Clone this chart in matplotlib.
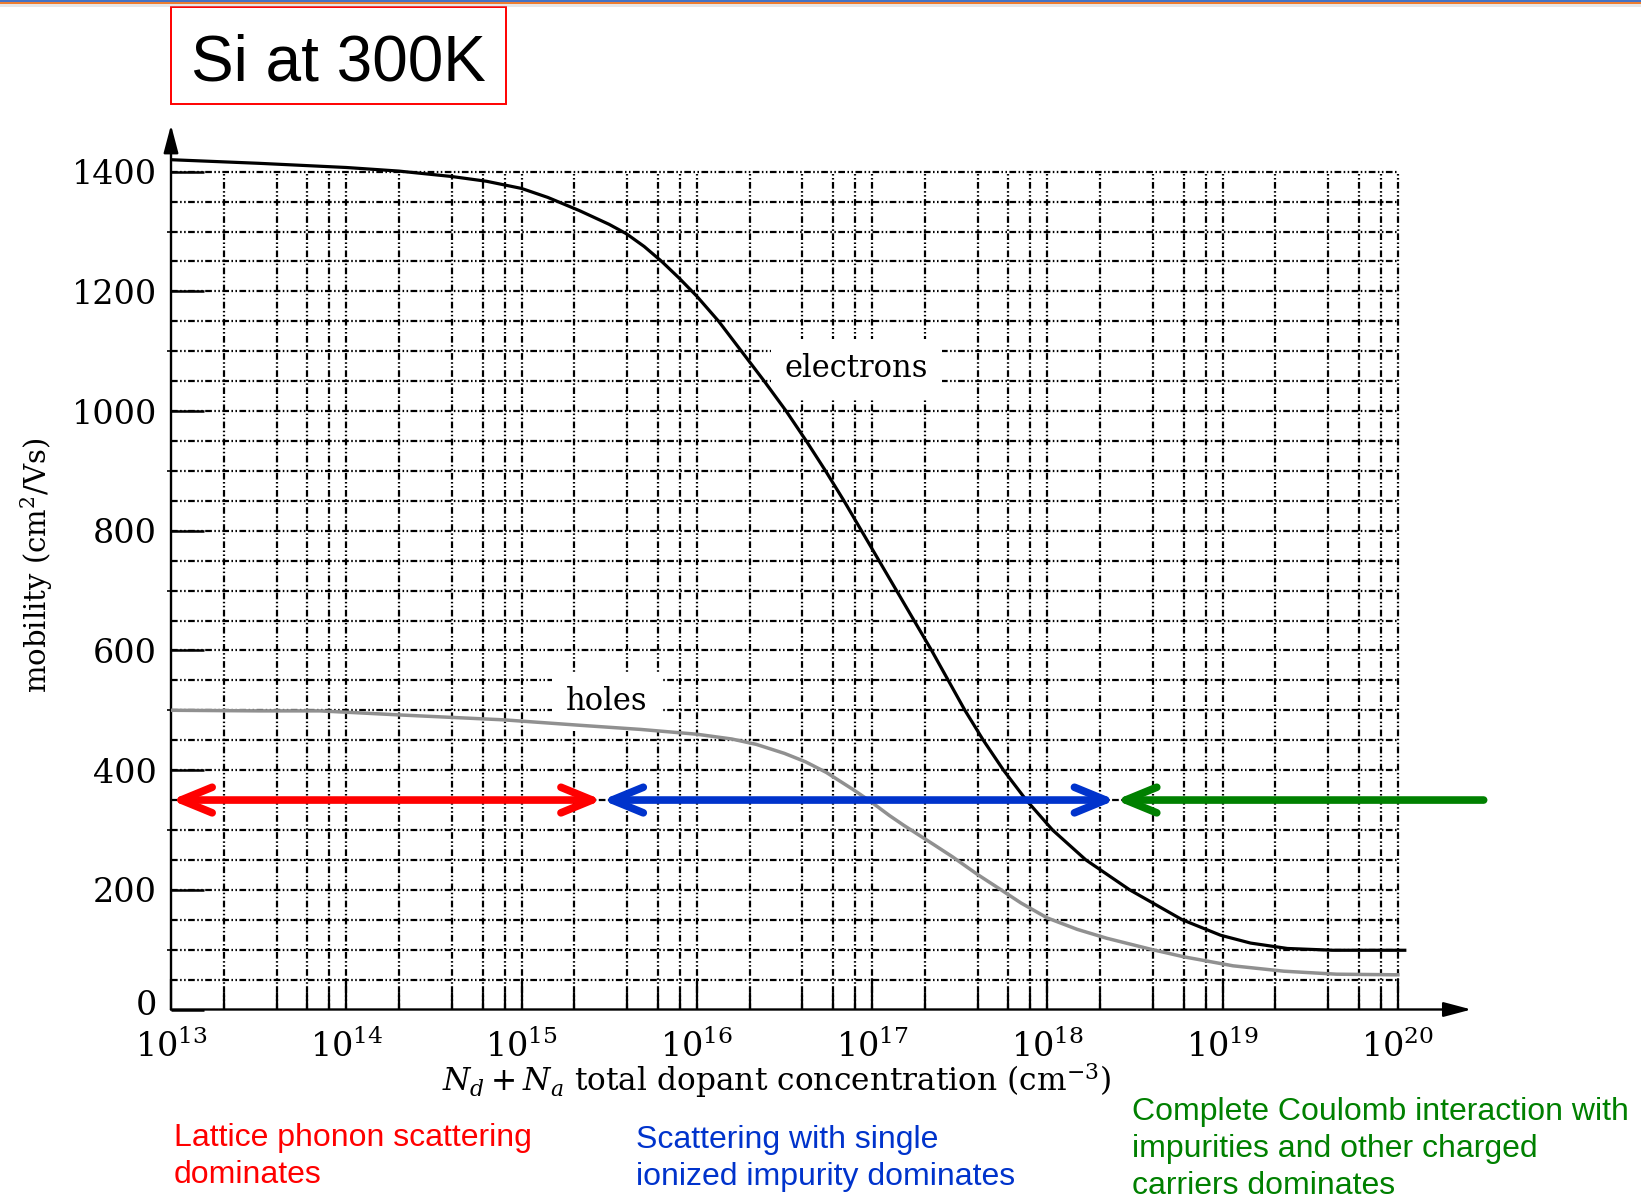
import numpy as np
import matplotlib
matplotlib.use("Agg")
import matplotlib.pyplot as plt
import matplotlib.transforms as mtransforms
from matplotlib.patches import Rectangle
from matplotlib.ticker import NullFormatter

plt.rcParams['font.family'] = 'DejaVu Serif'
plt.rcParams['mathtext.fontset'] = 'dejavuserif'

# -----------------------------
# DATA (Si mobility at 300 K)
# -----------------------------
# log10 of total dopant concentration (cm^-3) and mobility (cm^2/Vs)
log_n_electrons = [13.0, 13.5, 14.0, 14.3, 14.6, 14.8, 15.0, 15.15, 15.33, 15.5,
                   15.6, 15.7, 15.8, 15.9, 16.0, 16.125, 16.255, 16.385, 16.51,
                   16.625, 16.735, 16.84, 16.94, 17.04, 17.14, 17.24, 17.34,
                   17.435, 17.53, 17.635, 17.75, 17.88, 18.03, 18.22, 18.47,
                   18.77, 18.99, 19.16, 19.37, 19.63, 20.04]
mu_electrons = [1420, 1414, 1407, 1401, 1392, 1384, 1372, 1357, 1335, 1312,
                1296, 1275, 1250, 1222, 1192, 1150, 1100, 1050, 1000,
                950, 900, 850, 800, 750, 700, 650, 600,
                550, 500, 450, 400, 350, 300, 250, 200,
                150, 124, 111, 102, 99, 99]

log_n_holes = [13.0, 13.5, 13.85, 14.32, 14.9, 15.33, 15.68, 16.0, 16.2, 16.34,
               16.5, 16.62, 16.74, 16.89, 16.99, 17.1, 17.18, 17.35, 17.46,
               17.6, 17.71, 17.85, 18.0, 18.17, 18.34, 18.6, 18.78, 19.06,
               19.35, 19.65, 20.0]
mu_holes = [500, 499, 499, 492, 484, 475, 468, 460, 452, 443,
            428, 414, 396, 368, 348, 324, 308, 276, 255,
            226, 205, 178, 153, 134, 119, 100, 88, 73,
            64, 59, 58]

decades = [13, 14, 15, 16, 17, 18, 19, 20]
y_ticks = [0, 200, 400, 600, 800, 1000, 1200, 1400]

# regime boundaries (log10 N) and the level the arrows are drawn at
regime_edges = [13.0, 15.46, 18.39, 20.49]
arrow_level = 350

regime_text = ["Lattice phonon scattering\ndominates",
               "Scattering with single\nionized impurity dominates",
               "Complete Coulomb interaction with\nimpurities and other charged\ncarriers dominates"]
regime_colors = ["#FF0000", "#0033CC", "#008000"]

# -----------------------------
# FIGURE
# -----------------------------
W, H = 1641, 1198
fig = plt.figure(figsize=(W / 100, H / 100), dpi=100)

x_left, x_right = 171, 1485.4
y_bottom, y_top = 1009.5, 125
ax = fig.add_axes([x_left / W, 1 - y_bottom / H, (x_right - x_left) / W, (y_bottom - y_top) / H])
ax.set_xscale('log')
ax.set_xlim(1e13, 10 ** 20.5)
ax.set_ylim(0, 1478)
for sp in ax.spines.values():
    sp.set_visible(False)

# grid: dash-dot-dot lines, only inside the 1e13..1e20 / 0..1400 box
grid_style = dict(color='black', lw=1.6, linestyles=[(0, (3.0, 1.1, 0.7, 1.1, 0.7, 1.1))], zorder=1)
h_lines = np.arange(50, 1401, 50)
v_lines = [m * 10.0 ** k for k in decades[:-1] for m in (2, 4, 6, 8, 10)]
ax.hlines(h_lines, 1e13, 1e20, **grid_style)
ax.vlines(v_lines, 0, 1400, **grid_style)

# axes drawn as arrows
axis_arrow = dict(arrowstyle='-|>,head_length=1.7,head_width=0.45', color='black',
                  lw=1.7, shrinkA=0, shrinkB=0, mutation_scale=10)
ax.annotate('', xy=(10 ** 20.42, 0), xytext=(1e13, 0), arrowprops=axis_arrow, annotation_clip=False)
ax.annotate('', xy=(1e13, 1478), xytext=(1e13, 0), arrowprops=axis_arrow, annotation_clip=False)

# ticks
ax.set_xticks([10.0 ** d for d in decades])
ax.set_xticklabels([rf'$10^{{{d}}}$' for d in decades])
ax.set_xticks([m * 10.0 ** k for k in decades[:-1] for m in (2, 4, 6, 8)], minor=True)
ax.xaxis.set_minor_formatter(NullFormatter())
ax.tick_params(axis='x', which='major', direction='in', length=22, width=1.6, pad=15, labelsize=24)
ax.tick_params(axis='x', which='minor', direction='in', length=12.5, width=1.6)

ax.set_yticks(y_ticks)
ax.set_yticks(np.arange(100, 1400, 200), minor=True)
ax.tick_params(axis='y', which='major', direction='in', length=24, width=1.8, pad=10, labelsize=24)
ax.tick_params(axis='y', which='minor', direction='inout', length=6, width=1.2)

# lift the "0" label a little off the x axis
zero_label = ax.yaxis.get_major_ticks()[0].label1
zero_label.set_transform(zero_label.get_transform()
                         + mtransforms.ScaledTranslation(0, 5 / 72, fig.dpi_scale_trans))

# mobility curves
ax.plot(10.0 ** np.array(log_n_electrons), mu_electrons, color='black', lw=2.3, zorder=3,
        solid_joinstyle='round')
ax.plot(10.0 ** np.array(log_n_holes), mu_holes, color='#909090', lw=2.5, zorder=3,
        solid_joinstyle='round')

label_box = dict(fc='white', ec='none', boxstyle='square,pad=0.45')
ax.text(10 ** 16.91, 1071, 'electrons', ha='center', va='center', fontsize=22, bbox=label_box, zorder=2)
ax.text(10 ** 15.486, 514, 'holes', ha='center', va='center', fontsize=22, bbox=label_box, zorder=2)

# regime arrows
for i, color in enumerate(regime_colors):
    style = '<->' if i < 2 else '<-'
    ax.annotate('', xy=(10 ** regime_edges[i + 1], arrow_level), xytext=(10 ** regime_edges[i], arrow_level),
                arrowprops=dict(arrowstyle=f'{style},head_length=1.12,head_width=0.46', color=color,
                                lw=5.5, shrinkA=0, shrinkB=0, mutation_scale=20,
                                capstyle='round', joinstyle='round'),
                annotation_clip=False, zorder=4)

# axis labels
fig.text(36.6 / W, 1 - 565 / H, r'mobility (cm$^2$/Vs)', rotation=90, ha='center', va='center', fontsize=21)
fig.text(776.6 / W, 1 - 1081 / H, r'$N_d + N_a$ total dopant concentration (cm$^{-3}$)',
         ha='center', va='center', fontsize=22.5)

# regime descriptions under the chart
text_pos = [(173.7, 1123), (636, 1125), (1132.5, 1096.7)]
for (tx, ty), txt, color in zip(text_pos, regime_text, regime_colors):
    fig.text(tx / W, 1 - ty / H, txt, color=color, fontsize=23, family='Liberation Sans',
             ha='left', va='top', linespacing=1.3)

# boxed title
fig.add_artist(Rectangle((170.6 / W, 1 - 103.6 / H), (506.5 - 170.6) / W, (103.6 - 7.3) / H,
                         transform=fig.transFigure, fill=False, ec='#FF0000', lw=1.4))
fig.text(338.5 / W, 1 - 80.6 / H, 'Si at 300K', fontsize=46, family='Liberation Sans',
         ha='center', va='baseline')

# slide header strip
fig.add_artist(Rectangle((0, 1 - 1.5 / H), 1, 1.5 / H, transform=fig.transFigure, color='#4472C4', lw=0))
fig.add_artist(Rectangle((0, 1 - 3.5 / H), 1, 2 / H, transform=fig.transFigure, color='#ED7D31', lw=0))
fig.add_artist(Rectangle((0, 1 - 7 / H), 1, 3.5 / H, transform=fig.transFigure, color='#bbbbbb', alpha=0.35, lw=0))

fig.savefig('out.png', dpi=100)
